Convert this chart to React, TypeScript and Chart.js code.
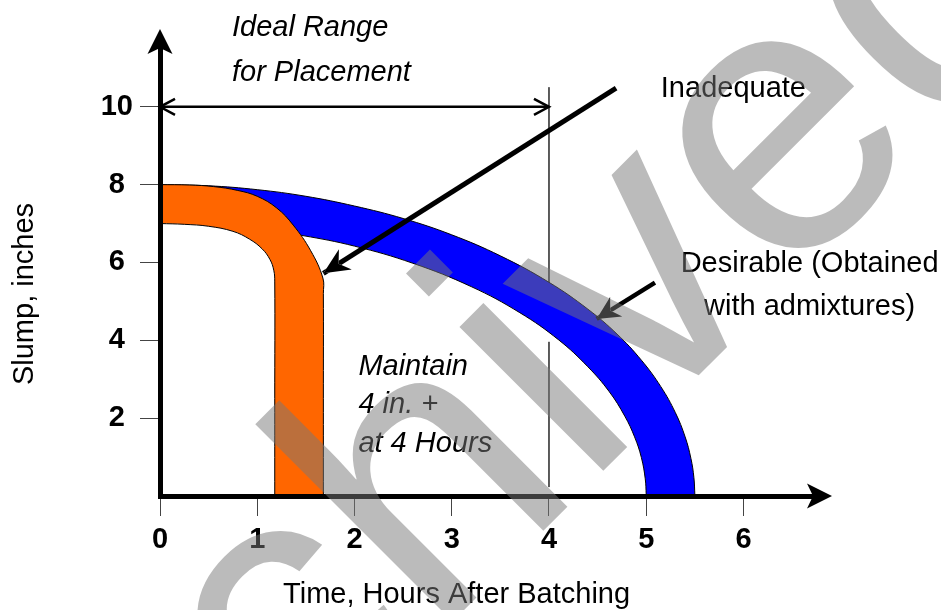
import React, { useEffect, useRef } from 'react';
import { Chart, registerables } from 'chart.js';

Chart.register(...registerables);

const FONT = "'Liberation Sans', Arial, Helvetica, sans-serif";

// ---------------- data (hours after batching, slump in inches) ----------------
const xTickValues = [0, 1, 2, 3, 4, 5, 6];
const yTickValues = [2, 4, 6, 8, 10];
const xAxisMax = 6.715;
const yAxisMax = 11.51;

// "Desirable (obtained with admixtures)" band: outer edge, then inner edge back to the slump axis
const desirableOuter: [number, number][] = [
  [0, 8], [0.5, 7.97], [1.0, 7.87], [1.5, 7.7], [2.0, 7.45], [2.5, 7.13], [3.0, 6.71], [3.5, 6.17],
  [4.0, 5.49], [4.4, 4.8], [4.7, 4.16], [4.95, 3.49], [5.15, 2.81], [5.3, 2.14], [5.4, 1.52],
  [5.46, 0.96], [5.49, 0.48], [5.5, 0.03], [5.5, 0],
];
const desirableInner: [number, number][] = [
  [5.0, 0], [5.0, 0.03], [4.99, 0.44], [4.95, 0.99], [4.88, 1.52], [4.78, 2.05], [4.62, 2.68],
  [4.4, 3.32], [4.1, 4.01], [3.7, 4.71], [3.2, 5.38], [2.6, 5.98], [2.0, 6.42], [1.47, 6.69],
  [0.8, 6.95], [0, 7.2],
];

// "Inadequate" band
const inadequateOuter: [number, number][] = [
  [0, 8], [0.3, 7.99], [0.55, 7.95], [0.8, 7.85], [1.0, 7.7], [1.2, 7.4], [1.37, 6.96], [1.55, 6.3],
  [1.675, 5.6], [1.68, 5.2], [1.68, 2.5], [1.68, 0.03], [1.68, 0],
];
const inadequateInner: [number, number][] = [
  [1.18, 0], [1.18, 0.03], [1.18, 2.5], [1.18, 5.5], [1.17, 5.8], [1.13, 6.08], [1.05, 6.35],
  [0.92, 6.6], [0.75, 6.8], [0.5, 6.93], [0.25, 6.98], [0, 7.0],
];

// Ideal range for placement (0 to 4 hours at 10 in.)
const idealRange: [number, number][] = [[0, 10], [4, 10]];
// thin 4-hour marker line (gap behind the band)
const fourHourLine: ([number, number] | null)[] = [[4, 10.5], [4, 5.0], null, [4, 3.96], [4, 0.23]];
// pointer arrows (tail -> tip)
const inadequateArrow: [number, number][] = [[4.69, 10.48], [1.68, 5.72]];
const desirableArrow: [number, number][] = [[5.09, 5.48], [4.49, 4.55]];

// ---------------- text ----------------
const xTitle = 'Time, Hours After Batching';
const yTitle = 'Slump, inches';
const watermark = 'archived';

type Note = { text: string; x: number; y: number; align: CanvasTextAlign; italic: boolean };
const notes: Note[] = [
  { text: 'Ideal Range', x: 0.74, y: 11.82, align: 'left', italic: true },
  { text: 'for Placement', x: 0.74, y: 10.67, align: 'left', italic: true },
  { text: 'Inadequate', x: 5.15, y: 10.25, align: 'left', italic: false },
  { text: 'Desirable (Obtained', x: 6.68, y: 5.76, align: 'center', italic: false },
  { text: 'with admixtures)', x: 6.68, y: 4.65, align: 'center', italic: false },
  { text: 'Maintain', x: 2.04, y: 3.11, align: 'left', italic: true },
  { text: '4 in. +', x: 2.04, y: 2.13, align: 'left', italic: true },
  { text: 'at 4 Hours', x: 2.04, y: 1.13, align: 'left', italic: true },
];

const toPts = (arr: ([number, number] | null)[]) =>
  arr.map((p) => (p ? { x: p[0], y: p[1] } : { x: 4, y: null }));

const headSpecs: Record<string, { len: number; half: number; notch: number }> = {
  'Inadequate pointer': { len: 26, half: 12, notch: 8 },
  'Desirable pointer': { len: 23, half: 11.5, notch: 7 },
};

function headPoly(tip: { x: number; y: number }, from: { x: number; y: number }, len: number, half: number, notch: number) {
  const dx = tip.x - from.x;
  const dy = tip.y - from.y;
  const L = Math.hypot(dx, dy) || 1;
  const ux = dx / L;
  const uy = dy / L;
  const nx = -uy;
  const ny = ux;
  const bx = tip.x - ux * len;
  const by = tip.y - uy * len;
  return [
    { x: tip.x, y: tip.y },
    { x: bx + nx * half, y: by + ny * half },
    { x: tip.x - ux * (len - notch), y: tip.y - uy * (len - notch) },
    { x: bx - nx * half, y: by - ny * half },
  ];
}

function tracePoly(ctx: CanvasRenderingContext2D, pts: { x: number; y: number }[]) {
  ctx.moveTo(pts[0].x, pts[0].y);
  for (let i = 1; i < pts.length; i++) ctx.lineTo(pts[i].x, pts[i].y);
  ctx.closePath();
}

function openHead(ctx: CanvasRenderingContext2D, tip: any, from: any, len: number, half: number) {
  const p = headPoly(tip, from, len, half, 0);
  ctx.beginPath();
  ctx.moveTo(p[1].x, p[1].y);
  ctx.lineTo(p[0].x, p[0].y);
  ctx.lineTo(p[3].x, p[3].y);
  ctx.stroke();
}

const overlayPlugin: any = {
  id: 'slumpOverlay',
  beforeDatasetDraw(chart: any, args: any) {
    const ds = chart.data.datasets[args.index];
    const spec = headSpecs[ds.label];
    if (!spec) return;
    const pts = args.meta.data;
    const tip = pts[pts.length - 1];
    const from = pts[pts.length - 2];
    const poly = headPoly(tip, from, spec.len, spec.half, spec.notch);
    const ctx = chart.ctx as CanvasRenderingContext2D;
    ctx.save();
    ctx.beginPath();
    ctx.rect(0, 0, chart.width, chart.height);
    tracePoly(ctx, poly);
    ctx.clip('evenodd');
  },
  afterDatasetDraw(chart: any, args: any) {
    const ds = chart.data.datasets[args.index];
    const ctx = chart.ctx as CanvasRenderingContext2D;
    const pts = args.meta.data;
    const spec = headSpecs[ds.label];
    if (spec) {
      ctx.restore();
      const tip = pts[pts.length - 1];
      const from = pts[pts.length - 2];
      ctx.save();
      ctx.fillStyle = '#000';
      ctx.beginPath();
      tracePoly(ctx, headPoly(tip, from, spec.len, spec.half, spec.notch));
      ctx.fill();
      ctx.restore();
    }
    if (ds.label === 'Ideal range') {
      ctx.save();
      ctx.strokeStyle = '#000';
      ctx.lineWidth = 2.5;
      ctx.lineJoin = 'miter';
      openHead(ctx, pts[1], pts[0], 15, 8);
      openHead(ctx, pts[0], pts[1], 15, 8);
      ctx.restore();
    }
  },
  afterDraw(chart: any) {
    const ctx = chart.ctx as CanvasRenderingContext2D;
    const ca = chart.chartArea;
    const xs = chart.scales.x;
    const ys = chart.scales.y;

    // axis arrowheads
    ctx.save();
    ctx.fillStyle = '#000';
    ctx.beginPath();
    tracePoly(ctx, headPoly({ x: ca.right + 19, y: ca.bottom }, { x: ca.left, y: ca.bottom }, 25, 12.5, 6));
    ctx.fill();
    ctx.beginPath();
    tracePoly(ctx, headPoly({ x: ca.left, y: ca.top - 19 }, { x: ca.left, y: ca.bottom }, 25, 12.5, 6));
    ctx.fill();
    ctx.restore();

    // annotations
    ctx.save();
    ctx.fillStyle = '#000';
    ctx.textBaseline = 'alphabetic';
    for (const n of notes) {
      ctx.font = `${n.italic ? 'italic ' : ''}29px ${FONT}`;
      ctx.textAlign = n.align;
      ctx.fillText(n.text, xs.getPixelForValue(n.x), ys.getPixelForValue(n.y));
    }
    // axis titles
    ctx.font = `29px ${FONT}`;
    ctx.textAlign = 'center';
    ctx.fillText(xTitle, xs.getPixelForValue(3.05), ca.bottom + 107);
    ctx.translate(ca.left - 127, ys.getPixelForValue(5.19));
    ctx.rotate(-Math.PI / 2);
    ctx.fillText(yTitle, 0, 0);
    ctx.restore();

    // watermark
    ctx.save();
    ctx.translate(55.5, 1018.6);
    ctx.rotate(-Math.PI / 4);
    ctx.font = `385px ${FONT}`;
    ctx.fillStyle = 'rgba(120,120,120,0.5)';
    ctx.textAlign = 'left';
    ctx.textBaseline = 'alphabetic';
    ctx.fillText(watermark, 0, 0);
    ctx.restore();
  },
};

export default function App() {
  const ref = useRef<HTMLCanvasElement>(null);
  useEffect(() => {
    const canvas = ref.current;
    if (!canvas) return;
    const tickFont = { family: FONT, size: 29, weight: 'bold' as const };
    const chart = new Chart(canvas, {
      type: 'line',
      data: {
        datasets: [
          {
            label: 'Inadequate pointer',
            data: toPts(inadequateArrow),
            borderColor: '#000',
            borderWidth: 5,
            tension: 0,
            fill: false,
            order: 0,
          },
          {
            label: 'Desirable pointer',
            data: toPts(desirableArrow),
            borderColor: '#000',
            borderWidth: 4.5,
            tension: 0,
            fill: false,
            order: 0,
          },
          {
            label: 'Ideal range',
            data: toPts(idealRange),
            borderColor: '#000',
            borderWidth: 2.5,
            tension: 0,
            fill: false,
            order: 0,
          },
          {
            label: 'Inadequate',
            data: toPts([...inadequateOuter, ...inadequateInner]),
            borderColor: '#000',
            borderWidth: 1,
            backgroundColor: '#FF6600',
            fill: 'shape',
            tension: 0.4,
            order: 1,
          },
          {
            label: 'Desirable (Obtained with admixtures)',
            data: toPts([...desirableOuter, ...desirableInner]),
            borderColor: '#000',
            borderWidth: 1,
            backgroundColor: '#0000FF',
            fill: 'shape',
            tension: 0.4,
            order: 2,
          },
          {
            label: '4 hours',
            data: toPts(fourHourLine),
            borderColor: '#444',
            borderWidth: 1,
            tension: 0,
            fill: false,
            spanGaps: false,
            order: 3,
          },
        ] as any,
      },
      options: {
        animation: false,
        responsive: false,
        events: [],
        layout: { padding: { top: 48, right: 128, left: 0, bottom: 0 } },
        elements: { point: { radius: 0, hoverRadius: 0 } },
        plugins: { legend: { display: false }, tooltip: { enabled: false } },
        scales: {
          x: {
            type: 'linear',
            min: 0,
            max: xAxisMax,
            afterBuildTicks: (s: any) => {
              s.ticks = xTickValues.map((v) => ({ value: v }));
            },
            afterFit: (s: any) => {
              s.height = 114;
            },
            grid: { display: true, drawOnChartArea: false, drawTicks: true, tickLength: 20, color: '#444', lineWidth: 1 },
            border: { display: true, color: '#000', width: 5, z: 1 },
            ticks: { font: tickFont, color: '#000', padding: 7, maxRotation: 0, autoSkip: false },
          },
          y: {
            type: 'linear',
            min: 0,
            max: yAxisMax,
            afterBuildTicks: (s: any) => {
              s.ticks = yTickValues.map((v) => ({ value: v }));
            },
            afterFit: (s: any) => {
              s.width = 160;
            },
            grid: { display: true, drawOnChartArea: false, drawTicks: true, tickLength: 20, color: '#444', lineWidth: 1 },
            border: { display: true, color: '#000', width: 5, z: 1 },
            ticks: { font: tickFont, color: '#000', padding: 7, crossAlign: 'center', autoSkip: false },
          },
        },
      } as any,
      plugins: [overlayPlugin],
    });
    return () => chart.destroy();
  }, []);

  return (
    <div style={{ position: 'fixed', left: 0, top: 0, width: 941, height: 610, background: '#fff' }}>
      <canvas ref={ref} width={941} height={610} style={{ display: 'block' }} />
    </div>
  );
}
